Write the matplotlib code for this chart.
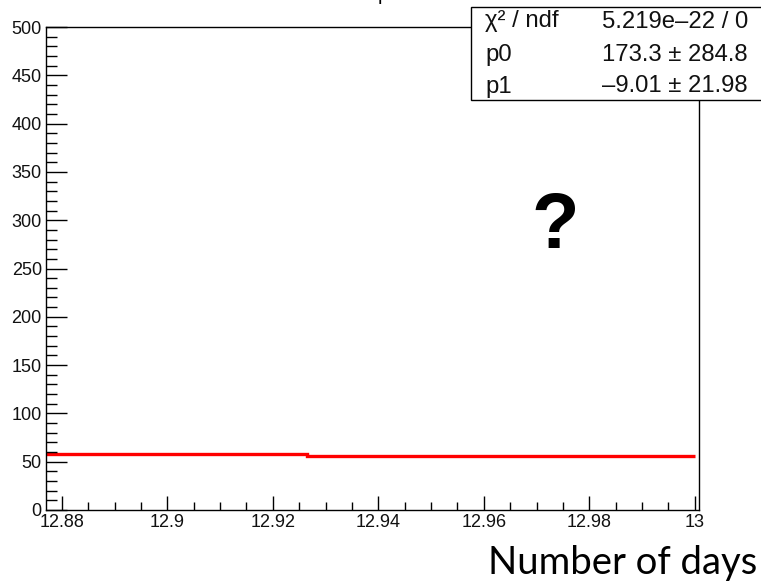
import matplotlib
matplotlib.use("Agg")
import matplotlib.pyplot as plt
from matplotlib.patches import Rectangle
from matplotlib.ticker import MultipleLocator

# --- data ---
bin_edges = [12.877, 12.9264, 13.0]
bin_counts = [57.7, 56.0]
x_major = [12.88, 12.9, 12.92, 12.94, 12.96, 12.98, 13.0]
x_labels = ["12.88", "12.9", "12.92", "12.94", "12.96", "12.98", "13"]
y_major = [0, 50, 100, 150, 200, 250, 300, 350, 400, 450, 500]
stat_labels = ["\u03c7\u00b2 / ndf", "p0", "p1"]
stat_values = ["5.219e\u201322 / 0", "173.3 \u00b1 284.8", "\u20139.01 \u00b1 21.98"]

W, H = 761, 583
SANS = ["Liberation Sans", "DejaVu Sans"]

fig = plt.figure(figsize=(W / 100, H / 100), dpi=100)
ax = fig.add_axes([46 / W, 1 - 510 / H, (699 - 46) / W, (510 - 27) / H])

ax.stairs(bin_counts, bin_edges, baseline=None, color="#ff0000", linewidth=2.4)

ax.set_xlim(12.877, 13.0008)
ax.set_ylim(0, 500)
ax.set_xticks(x_major)
ax.set_xticklabels(x_labels)
ax.set_yticks(y_major)
ax.xaxis.set_minor_locator(MultipleLocator(0.005))
ax.yaxis.set_minor_locator(MultipleLocator(10))

ax.tick_params(axis="x", which="major", direction="in", length=10, width=1.0, pad=3)
ax.tick_params(axis="x", which="minor", direction="in", length=5.8, width=1.0)
ax.tick_params(axis="y", which="major", direction="in", length=15, width=1.0, pad=3)
ax.tick_params(axis="y", which="minor", direction="in", length=8, width=1.0)
for lab in ax.get_xticklabels() + ax.get_yticklabels():
    lab.set_family(SANS)
    lab.set_fontsize(13)
    lab.set_color("#111111")
for sp in ax.spines.values():
    sp.set_linewidth(1.0)

# cropped title descender
fig.text(383 / W, 1.0, "p", ha="center", va="baseline", fontsize=14, family=SANS)

# stats box
box = Rectangle((471 / W, 1 - 100 / H), (W - 471 + 5) / W, (100 - 7) / H,
                transform=fig.transFigure, facecolor="white", edgecolor="black",
                linewidth=1.0, zorder=5)
fig.patches.append(box)
row_y = [21.5, 55, 86.5]
for lab, val, y in zip(stat_labels, stat_values, row_y):
    fig.text(485 / W, 1 - y / H, lab, ha="left", va="center", fontsize=17.2,
             family=SANS, color="#111111", zorder=6)
    fig.text(748 / W, 1 - y / H, val, ha="right", va="center", fontsize=17.2,
             family=SANS, color="#111111", zorder=6)

fig.text(555 / W, 1 - 228 / H, "?", ha="center", va="center", fontsize=56,
         fontweight="bold", family=SANS)

fig.text(757 / W, 1 - 563 / H, "Number of days", ha="right", va="center",
         fontsize=27.5, family=["Lato", "DejaVu Sans"])

fig.savefig("out.png", dpi=100)
